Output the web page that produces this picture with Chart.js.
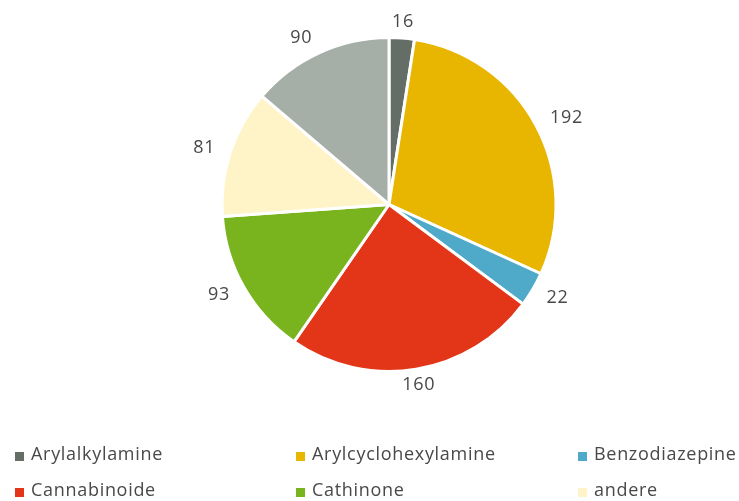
<!DOCTYPE html>
<html>
<head>
<meta charset="utf-8">
<script src="https://cdn.jsdelivr.net/npm/chart.js@4"></script>
<style>
  html, body { margin: 0; padding: 0; background: #fff; }
  #wrap { width: 739px; height: 501px; position: relative; }
</style>
</head>
<body>
<div id="wrap"><canvas id="g_pie"></canvas></div>
<script>
// Daten
const categories = ['Arylalkylamine', 'Arylcyclohexylamine', 'Benzodiazepine', 'Cannabinoide', 'Cathinone', 'andere', 'unbekannt'];
const values = [16, 192, 22, 160, 93, 81, 90];
const colors = ['#646e67', '#e8b600', '#4fa9c9', '#e33619', '#79b41f', '#fff3c8', '#a5aea7'];

const textColor = '#484848';
const fontFamily = '"Open Sans", "Noto Sans", sans-serif';

// Werte außen an den Stücken
const outsideLabels = {
    id: 'outsideLabels',
    afterDatasetsDraw(chart) {
        const c = chart.ctx;
        const meta = chart.getDatasetMeta(0);
        c.save();
        c.font = '18px ' + fontFamily;
        c.letterSpacing = '0.7px';
        c.fillStyle = textColor;
        c.textBaseline = 'middle';
        meta.data.forEach((arc, i) => {
            const mid = (arc.startAngle + arc.endAngle) / 2;
            const r = arc.outerRadius + 16;
            const sx = Math.cos(mid), sy = Math.sin(mid);
            const x = arc.x + sx * r;
            const y = arc.y + sy * r;
            c.textAlign = sx > 0.3 ? 'left' : (sx < -0.3 ? 'right' : 'center');
            c.fillText(String(values[i]), x, y);
        });
        c.restore();
    }
};

// Legende unten, drei Spalten
const gridLegend = {
    id: 'gridLegend',
    afterDraw(chart) {
        const c = chart.ctx;
        const colX = [15, 296, 578];
        const rowY = [455, 491, 527];
        c.save();
        c.font = '18px ' + fontFamily;
        c.letterSpacing = '0.7px';
        c.textBaseline = 'middle';
        c.textAlign = 'left';
        categories.forEach((name, i) => {
            const x = colX[i % 3];
            const y = rowY[Math.floor(i / 3)];
            c.fillStyle = colors[i];
            c.fillRect(x, y - 3, 9, 9);
            c.fillStyle = textColor;
            c.fillText(name, x + 16, y);
        });
        c.restore();
    }
};

const ctx = document.getElementById('g_pie').getContext('2d');
const g_pie = new Chart(ctx, {
    type: 'pie',
    data: {
        labels: categories,
        datasets: [{
            data: values,
            backgroundColor: colors,
            borderColor: '#ffffff',
            borderWidth: 3,
            hoverOffset: 0
        }]
    },
    options: {
        responsive: true,
        maintainAspectRatio: false,
        animation: false,
        layout: { padding: { top: 36, bottom: 128, left: 39, right: 0 } },
        plugins: {
            legend: { display: false },
            tooltip: { enabled: false }
        }
    },
    plugins: [outsideLabels, gridLegend]
});
</script>
</body>
</html>
